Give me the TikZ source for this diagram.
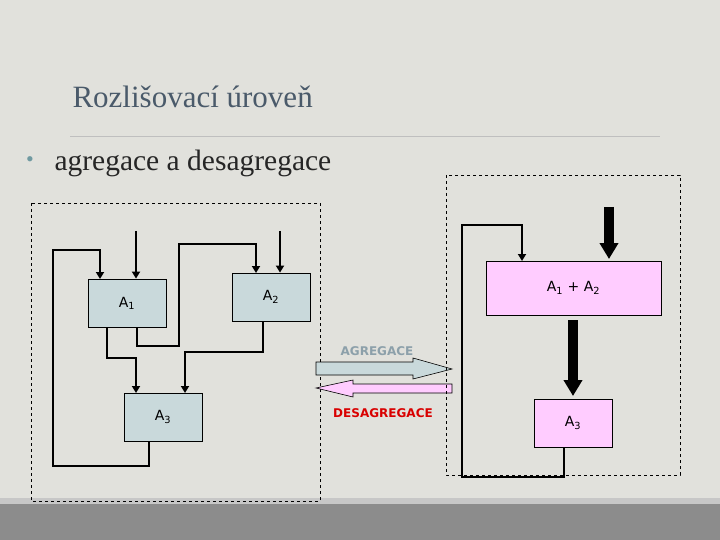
\documentclass[tikz,border=0pt]{standalone}
\usepackage{fontspec}
\setmainfont{Liberation Serif}
\newfontfamily\tah{DejaVu Sans}
\usetikzlibrary{arrows.meta}
\definecolor{bg}{HTML}{E1E1DC}
\definecolor{boxblue}{HTML}{C9D9DB}
\definecolor{boxpink}{HTML}{FFCCFF}
\definecolor{titlec}{HTML}{4A5A6A}
\definecolor{agc}{HTML}{8CA0AA}
\tikzset{
  x=1pt,y=-1pt,
  blk/.style={draw=black,line width=0.8pt,fill=boxblue,minimum width=78pt,minimum height=48pt,inner sep=0pt,font=\tah\fontsize{14}{15}\selectfont},
  pblk/.style={blk,fill=boxpink},
  conn/.style={line width=2pt,-{Triangle[width=8pt,length=7pt]}},
  fat/.style={line width=10pt,-{Triangle[width=18pt,length=16pt]}},
  dbox/.style={draw=black,dashed,line width=0.6pt},
}
\begin{document}
\begin{tikzpicture}
\useasboundingbox (0,0) rectangle (720,540);
\fill[bg] (0,0) rectangle (720,540);
\fill[black!22] (0,498) rectangle (720,504);
\fill[black!45] (0,504) rectangle (720,540);
\node[anchor=west,text=titlec,font=\fontsize{31}{33}\selectfont] (title) at (69,97) {Rozlišovací úroveň};
\draw[black!25,line width=0.7pt] (70,136) -- (660,136);
\node[text=agc!80!teal,font=\fontsize{22}{24}\selectfont] (bul) at (30,162) {•};
\node[anchor=west,font=\fontsize{29.5}{31}\selectfont,text=black!85] (sub) at (51,163) {agregace a desagregace};
% left
\draw[dbox] (31,203) rectangle (320,501);
\node[blk] (A1) at (127,303) {A\textsubscript{1}};
\node[blk] (A2) at (271,297) {A\textsubscript{2}};
\node[blk] (A3) at (163,417) {A\textsubscript{3}};
\coordinate (i1) at (136,231);
\coordinate (i2) at (280,231);
\draw[conn] (i1) -- (i1 |- A1.north);
\draw[conn] (i2) -- (i2 |- A2.north);
\draw[conn] (149,441) -- (149,466) -- (53,466) -- (53,250) -- (100,250) -- (100,279);
\draw[conn] (137,327) -- (137,346) -- (179,346) -- (179,244) -- (256,244) -- (256,273);
\draw[conn] (107,327) -- (107,358) -- (136,358) -- (136,393);
\draw[conn] (263,321) -- (263,352) -- (185,352) -- (185,393);
% middle
\node[text=agc,font=\tah\bfseries\fontsize{12}{13}\selectfont] (ag) at (377,351) {AGREGACE};
\draw[black,line width=0.6pt,fill=boxblue] (316,362) -- (413,362) -- (413,358) -- (452,369) -- (413,379) -- (413,375) -- (316,375) -- cycle;
\draw[black,line width=0.6pt,fill=boxpink] (452,384) -- (353,384) -- (353,380) -- (316,388) -- (353,397) -- (353,393) -- (452,393) -- cycle;
\node[text=red!85!black,font=\tah\bfseries\fontsize{12}{13}\selectfont] (des) at (383,413) {DESAGREGACE};
% right
\draw[dbox] (446,175) rectangle (680,475);
\node[pblk,minimum width=175pt,minimum height=54pt] (B) at (573.5,288) {A\textsubscript{1} + A\textsubscript{2}};
\node[pblk] (B3) at (573,423) {A\textsubscript{3}};
\draw[conn] (564,447) -- (564,477) -- (462,477) -- (462,225) -- (522,225) -- (522,261);
\draw[fat] (609,207) -- (609,259);
\draw[fat] (573,320) -- (573,396);
\end{tikzpicture}
\end{document}
